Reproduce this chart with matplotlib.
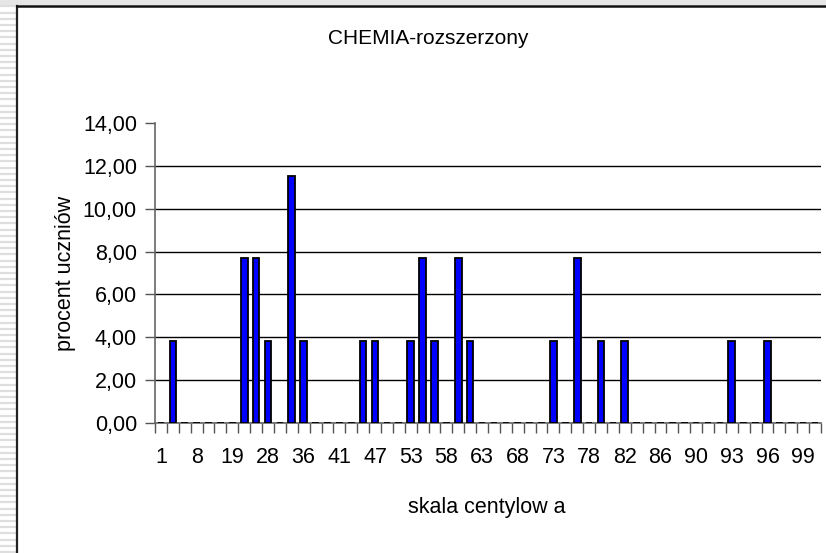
import numpy as np
import matplotlib
matplotlib.use("Agg")
import matplotlib.pyplot as plt
from matplotlib.ticker import FixedLocator, FuncFormatter
from matplotlib.lines import Line2D

plt.rcParams['font.family'] = ['Liberation Sans', 'DejaVu Sans']

# percentile scale categories (only every third label is shown on the axis)
categories = ["1", "3", "5", "8", "12", "15", "19", "22", "25", "28",
              "31", "33", "36", "38", "39", "41", "43", "45", "47", "49",
              "51", "53", "55", "57", "58", "60", "62", "63", "65", "67",
              "68", "70", "72", "73", "75", "77", "78", "79", "81", "82",
              "83", "85", "86", "87", "89", "90", "91", "92", "93", "94",
              "95", "96", "97", "98", "99", "100"]

# percent of students in each category
percent = [0, 3.85, 0, 0, 0, 0, 0, 7.69, 7.69, 3.85,
           0, 11.54, 3.85, 0, 0, 0, 0, 3.85, 3.85, 0,
           0, 3.85, 7.69, 3.85, 0, 7.69, 3.85, 0, 0, 0,
           0, 0, 0, 3.85, 0, 7.69, 0, 3.85, 0, 3.85,
           0, 0, 0, 0, 0, 0, 0, 0, 3.85, 0,
           0, 3.85, 0, 0, 0, 0]

y_ticks = [0, 2, 4, 6, 8, 10, 12, 14]

W, H = 826, 553
fig = plt.figure(figsize=(W / 100, H / 100), dpi=100)

# striped slide background on the left and top
strip = fig.add_axes([0, 0, 17 / W, 1])
strip.set_xlim(0, 1)
strip.set_ylim(0, H)
strip.set_facecolor("#f7f7f7")
for yy in np.arange(1, H, 6.2):
    strip.axhline(yy, color="#dedede", lw=1.6)
strip.axis("off")
strip.patch.set_visible(True)
fig.patches.append(plt.Rectangle((0, 1 - 5 / H), 1, 5 / H, transform=fig.transFigure,
                                 facecolor="#e6e6e6", edgecolor="none", zorder=0))

# chart border
fig.add_artist(Line2D([16.5 / W, 16.5 / W], [0, 1 - 5.5 / H], color="#222222", lw=1.6))
fig.add_artist(Line2D([16.5 / W, 1], [1 - 5.5 / H, 1 - 5.5 / H], color="#111111", lw=1.8))

ax = fig.add_axes([155 / W, (H - 423) / H, (821 - 155) / W, (423 - 123) / H])
x = np.arange(len(categories))
ax.bar(x, percent, width=0.56, color="#0000ff", edgecolor="black", linewidth=1.3, zorder=3)

ax.set_xlim(-0.5, len(categories) - 0.5)
ax.set_ylim(0, 14)

ax.set_xticks(x[::3])
ax.set_xticklabels(categories[::3])
ax.xaxis.set_minor_locator(FixedLocator(np.arange(-0.5, len(categories), 1)))
ax.tick_params(axis="x", which="major", length=0, pad=17, labelsize=15.5)
ax.tick_params(axis="x", which="minor", length=7, width=1, color="#555555", direction="out")

ax.set_yticks(y_ticks)
ax.yaxis.set_major_formatter(FuncFormatter(lambda v, p: f"{v:.2f}".replace(".", ",")))
ax.tick_params(axis="y", length=7, width=1, color="#555555", pad=6, labelsize=15.5)

ax.grid(axis="y", color="black", lw=1, zorder=1)
ax.get_ygridlines()[-1].set_visible(False)
for s in ["top", "right"]:
    ax.spines[s].set_visible(False)
for s in ["left", "bottom"]:
    ax.spines[s].set_color("#666666")
    ax.spines[s].set_linewidth(1.2)

fig.text(428 / W, 1 - 39 / H, "CHEMIA-rozszerzony", ha="center", va="center", fontsize=15)
fig.text(487 / W, 1 - 507 / H, "skala centylow a", ha="center", va="center", fontsize=15.5)
fig.text(65 / W, 1 - 273 / H, "procent uczniów", ha="center", va="center",
         rotation=90, fontsize=15.5)

fig.savefig("out.png", dpi=100)
